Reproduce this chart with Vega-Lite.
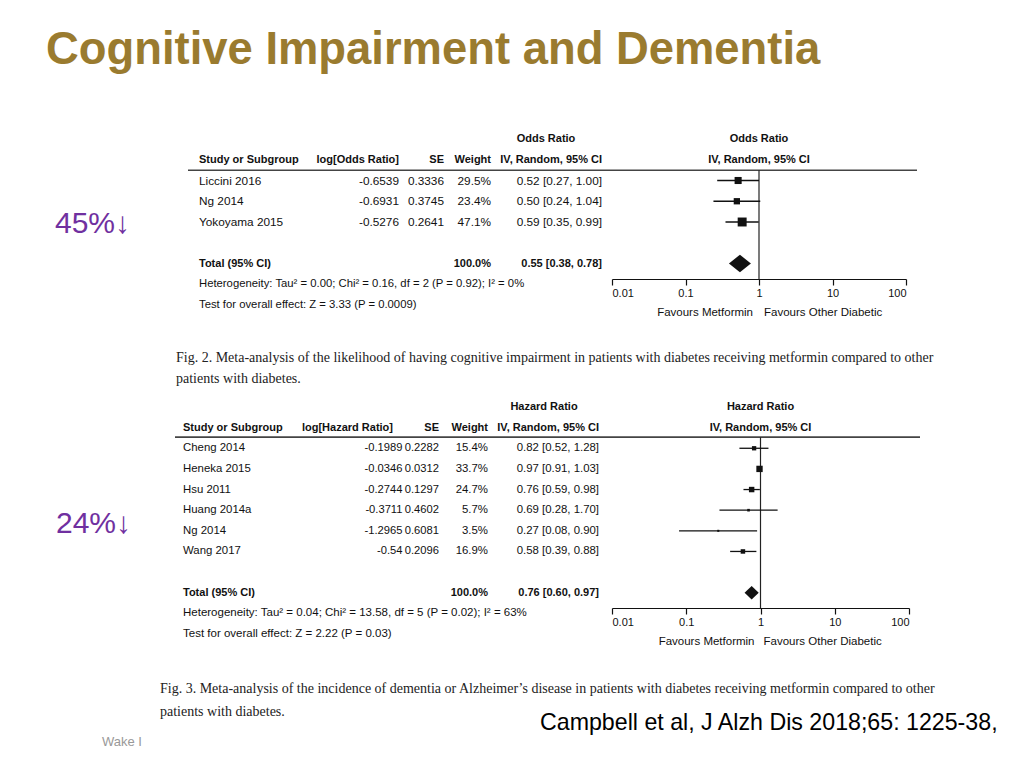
{
  "$schema": "https://vega.github.io/schema/vega-lite/v6.json",
  "width": 1024,
  "height": 768,
  "autosize": "none",
  "padding": 0,
  "background": "white",
  "config": {
    "view": {"stroke": null},
    "axis": {"grid": false, "domainColor": "#111", "tickColor": "#111", "labelColor": "#111", "labelFont": "Liberation Sans", "labelFontSize": 11, "tickSize": 6, "labelPadding": 2, "domainWidth": 1.2, "tickWidth": 1.2}
  },
  "data": {"values": [{}]},
  "resolve": {"scale": {"x": "independent", "y": "independent", "size": "independent"}},
  "layer": [
    {"mark": {"type": "text", "align": "left", "baseline": "alphabetic", "font": "Liberation Sans", "fontSize": 45.4, "fontWeight": "bold", "color": "#9A7B2F"},
     "encoding": {"x": {"datum": 46, "type": "quantitative", "scale": {"domain": [0, 1024], "range": [0, 1024], "nice": false, "zero": false}, "axis": null},
                  "y": {"datum": 64, "type": "quantitative", "scale": {"domain": [0, 768], "range": [0, 768], "nice": false, "zero": false}, "axis": null},
                  "text": {"value": "Cognitive Impairment and Dementia"}}},
    {"mark": {"type": "text", "align": "left", "baseline": "alphabetic", "font": "Liberation Sans", "fontSize": 30, "color": "#7030A0"},
     "encoding": {"x": {"datum": 55, "type": "quantitative", "scale": {"domain": [0, 1024], "range": [0, 1024], "nice": false, "zero": false}, "axis": null},
                  "y": {"datum": 233, "type": "quantitative", "scale": {"domain": [0, 768], "range": [0, 768], "nice": false, "zero": false}, "axis": null},
                  "text": {"value": "45%↓"}}},
    {"mark": {"type": "text", "align": "left", "baseline": "alphabetic", "font": "Liberation Sans", "fontSize": 30, "color": "#7030A0"},
     "encoding": {"x": {"datum": 56, "type": "quantitative", "scale": {"domain": [0, 1024], "range": [0, 1024], "nice": false, "zero": false}, "axis": null},
                  "y": {"datum": 533, "type": "quantitative", "scale": {"domain": [0, 768], "range": [0, 768], "nice": false, "zero": false}, "axis": null},
                  "text": {"value": "24%↓"}}},
    {"mark": {"type": "text", "align": "left", "baseline": "alphabetic", "font": "Liberation Serif", "fontSize": 14, "color": "#222"},
     "encoding": {"x": {"datum": 176, "type": "quantitative", "scale": {"domain": [0, 1024], "range": [0, 1024], "nice": false, "zero": false}, "axis": null},
                  "y": {"datum": 362, "type": "quantitative", "scale": {"domain": [0, 768], "range": [0, 768], "nice": false, "zero": false}, "axis": null},
                  "text": {"value": "Fig. 2. Meta-analysis of the likelihood of having cognitive impairment in patients with diabetes receiving metformin compared to other"}}},
    {"mark": {"type": "text", "align": "left", "baseline": "alphabetic", "font": "Liberation Serif", "fontSize": 14, "color": "#222"},
     "encoding": {"x": {"datum": 176, "type": "quantitative", "scale": {"domain": [0, 1024], "range": [0, 1024], "nice": false, "zero": false}, "axis": null},
                  "y": {"datum": 383, "type": "quantitative", "scale": {"domain": [0, 768], "range": [0, 768], "nice": false, "zero": false}, "axis": null},
                  "text": {"value": "patients with diabetes."}}},
    {"mark": {"type": "text", "align": "left", "baseline": "alphabetic", "font": "Liberation Serif", "fontSize": 14, "color": "#222"},
     "encoding": {"x": {"datum": 160, "type": "quantitative", "scale": {"domain": [0, 1024], "range": [0, 1024], "nice": false, "zero": false}, "axis": null},
                  "y": {"datum": 693, "type": "quantitative", "scale": {"domain": [0, 768], "range": [0, 768], "nice": false, "zero": false}, "axis": null},
                  "text": {"value": "Fig. 3. Meta-analysis of the incidence of dementia or Alzheimer’s disease in patients with diabetes receiving metformin compared to other"}}},
    {"mark": {"type": "text", "align": "left", "baseline": "alphabetic", "font": "Liberation Serif", "fontSize": 14, "color": "#222"},
     "encoding": {"x": {"datum": 160, "type": "quantitative", "scale": {"domain": [0, 1024], "range": [0, 1024], "nice": false, "zero": false}, "axis": null},
                  "y": {"datum": 716, "type": "quantitative", "scale": {"domain": [0, 768], "range": [0, 768], "nice": false, "zero": false}, "axis": null},
                  "text": {"value": "patients with diabetes."}}},
    {"mark": {"type": "text", "align": "left", "baseline": "alphabetic", "font": "Liberation Sans", "fontSize": 23.2, "color": "#000"},
     "encoding": {"x": {"datum": 540, "type": "quantitative", "scale": {"domain": [0, 1024], "range": [0, 1024], "nice": false, "zero": false}, "axis": null},
                  "y": {"datum": 730, "type": "quantitative", "scale": {"domain": [0, 768], "range": [0, 768], "nice": false, "zero": false}, "axis": null},
                  "text": {"value": "Campbell et al, J Alzh Dis 2018;65: 1225-38,"}}},
    {"mark": {"type": "text", "align": "left", "baseline": "alphabetic", "font": "Liberation Sans", "fontSize": 13, "color": "#999"},
     "encoding": {"x": {"datum": 102, "type": "quantitative", "scale": {"domain": [0, 1024], "range": [0, 1024], "nice": false, "zero": false}, "axis": null},
                  "y": {"datum": 746, "type": "quantitative", "scale": {"domain": [0, 768], "range": [0, 768], "nice": false, "zero": false}, "axis": null},
                  "text": {"value": "Wake I"}}},

    {"data": {"values": [
      {"study": "Study or Subgroup", "logr": "log[Odds Ratio]", "se": "SE", "wt": "Weight", "ci": "IV, Random, 95% CI"},
      {"study": "Liccini 2016", "logr": "-0.6539", "se": "0.3336", "wt": "29.5%", "ci": "0.52 [0.27, 1.00]", "weight": 29.5, "or": 0.52, "lo": 0.27, "hi": 1.00},
      {"study": "Ng 2014", "logr": "-0.6931", "se": "0.3745", "wt": "23.4%", "ci": "0.50 [0.24, 1.04]", "weight": 23.4, "or": 0.50, "lo": 0.24, "hi": 1.04},
      {"study": "Yokoyama 2015", "logr": "-0.5276", "se": "0.2641", "wt": "47.1%", "ci": "0.59 [0.35, 0.99]", "weight": 47.1, "or": 0.59, "lo": 0.35, "hi": 0.99},
      {"study": "Total (95% CI)", "wt": "100.0%", "ci": "0.55 [0.38, 0.78]", "weight": 100, "or": 0.55, "lo": 0.38, "hi": 0.78}
     ]},
     "encoding": {"y": {"field": "study", "type": "nominal", "axis": null,
       "scale": {"type": "point", "padding": 0, "domain": ["sup", "Study or Subgroup", "Liccini 2016", "Ng 2014", "Yokoyama 2015", "gap", "Total (95% CI)", "Heterogeneity", "Test"], "range": [139, 305]}}},
     "resolve": {"scale": {"x": "independent"}},
     "layer": [
       {"mark": {"type": "text", "align": "left", "baseline": "middle", "font": "Liberation Sans", "color": "#111",
                 "fontWeight": {"expr": "datum.study === 'Study or Subgroup' || datum.study === 'Total (95% CI)' ? 'bold' : 'normal'"},
                 "fontSize": {"expr": "datum.study === 'Study or Subgroup' || datum.study === 'Total (95% CI)' ? 11 : 11.8"}},
        "encoding": {"x": {"datum": 199, "type": "quantitative", "scale": {"domain": [0, 1024], "range": [0, 1024], "nice": false, "zero": false}, "axis": null},
                     "text": {"field": "study"}}},
       {"transform": [{"filter": "isValid(datum.logr)"}],
        "mark": {"type": "text", "align": "right", "baseline": "middle", "font": "Liberation Sans", "color": "#111",
                 "fontWeight": {"expr": "datum.study === 'Study or Subgroup' || datum.study === 'Total (95% CI)' ? 'bold' : 'normal'"},
                 "fontSize": {"expr": "datum.study === 'Study or Subgroup' || datum.study === 'Total (95% CI)' ? 11 : 11.8"}},
        "encoding": {"x": {"datum": 399, "type": "quantitative", "scale": {"domain": [0, 1024], "range": [0, 1024], "nice": false, "zero": false}, "axis": null},
                     "text": {"field": "logr"}}},
       {"transform": [{"filter": "isValid(datum.se)"}],
        "mark": {"type": "text", "align": "right", "baseline": "middle", "font": "Liberation Sans", "color": "#111",
                 "fontWeight": {"expr": "datum.study === 'Study or Subgroup' || datum.study === 'Total (95% CI)' ? 'bold' : 'normal'"},
                 "fontSize": {"expr": "datum.study === 'Study or Subgroup' || datum.study === 'Total (95% CI)' ? 11 : 11.8"}},
        "encoding": {"x": {"datum": 444, "type": "quantitative", "scale": {"domain": [0, 1024], "range": [0, 1024], "nice": false, "zero": false}, "axis": null},
                     "text": {"field": "se"}}},
       {"mark": {"type": "text", "align": "right", "baseline": "middle", "font": "Liberation Sans", "color": "#111",
                 "fontWeight": {"expr": "datum.study === 'Study or Subgroup' || datum.study === 'Total (95% CI)' ? 'bold' : 'normal'"},
                 "fontSize": {"expr": "datum.study === 'Study or Subgroup' || datum.study === 'Total (95% CI)' ? 11 : 11.8"}},
        "encoding": {"x": {"datum": 491, "type": "quantitative", "scale": {"domain": [0, 1024], "range": [0, 1024], "nice": false, "zero": false}, "axis": null},
                     "text": {"field": "wt"}}},
       {"mark": {"type": "text", "align": "right", "baseline": "middle", "font": "Liberation Sans", "color": "#111",
                 "fontWeight": {"expr": "datum.study === 'Study or Subgroup' || datum.study === 'Total (95% CI)' ? 'bold' : 'normal'"},
                 "fontSize": {"expr": "datum.study === 'Study or Subgroup' || datum.study === 'Total (95% CI)' ? 11 : 11.8"}},
        "encoding": {"x": {"datum": 602, "type": "quantitative", "scale": {"domain": [0, 1024], "range": [0, 1024], "nice": false, "zero": false}, "axis": null},
                     "text": {"field": "ci"}}},
       {"data": {"values": [{}]},
        "mark": {"type": "text", "align": "center", "baseline": "middle", "font": "Liberation Sans", "fontSize": 11, "fontWeight": "bold", "color": "#111"},
        "encoding": {"x": {"datum": 546, "type": "quantitative", "scale": {"domain": [0, 1024], "range": [0, 1024], "nice": false, "zero": false}, "axis": null},
                     "y": {"datum": "sup", "type": "nominal"},
                     "text": {"value": "Odds Ratio"}}},
       {"data": {"values": [{}]},
        "mark": {"type": "rule", "color": "#444", "strokeWidth": 1.6, "yOffset": 10.5},
        "encoding": {"x": {"datum": 188, "type": "quantitative", "scale": {"domain": [0, 1024], "range": [0, 1024], "nice": false, "zero": false}, "axis": null},
                     "x2": {"datum": 917},
                     "y": {"datum": "Study or Subgroup", "type": "nominal"}}},
       {"data": {"values": [
          {"study": "Heterogeneity", "note": "Heterogeneity: Tau² = 0.00; Chi² = 0.16, df = 2 (P = 0.92); I² = 0%"},
          {"study": "Test", "note": "Test for overall effect: Z = 3.33 (P = 0.0009)"}
        ]},
        "mark": {"type": "text", "align": "left", "baseline": "middle", "font": "Liberation Sans", "fontSize": 11.3, "color": "#111"},
        "encoding": {"x": {"datum": 199, "type": "quantitative", "scale": {"domain": [0, 1024], "range": [0, 1024], "nice": false, "zero": false}, "axis": null},
                     "text": {"field": "note"}}},
       {"layer": [
          {"data": {"values": [{}]},
           "mark": {"type": "rule", "color": "#222", "strokeWidth": 1.2, "yOffset": 10.5, "y2Offset": -5},
           "encoding": {"x": {"datum": 1, "type": "quantitative", "scale": {"type": "log", "domain": [0.01, 100], "range": [612, 906]}, "axis": {"orient": "bottom", "offset": -489, "values": [0.01, 0.1, 1, 10, 100], "format": "~g", "title": null, "labelFlush": true, "labelOverlap": false}},
                        "y": {"datum": "Study or Subgroup", "type": "nominal"},
                        "y2": {"datum": "Heterogeneity"}}},
          {"transform": [{"filter": "isValid(datum.lo) && datum.study !== 'Total (95% CI)'"}],
           "mark": {"type": "rule", "color": "#111", "strokeWidth": 1.3},
           "encoding": {"x": {"field": "lo", "type": "quantitative", "scale": {"type": "log", "domain": [0.01, 100], "range": [612, 906]}, "axis": {"orient": "bottom", "offset": -489, "values": [0.01, 0.1, 1, 10, 100], "format": "~g", "title": null, "labelFlush": true, "labelOverlap": false}},
                        "x2": {"field": "hi"}}},
          {"transform": [{"filter": "isValid(datum.or) && datum.study !== 'Total (95% CI)'"}],
           "mark": {"type": "point", "shape": "square", "filled": true, "color": "#111", "opacity": 1},
           "encoding": {"x": {"field": "or", "type": "quantitative", "scale": {"type": "log", "domain": [0.01, 100], "range": [612, 906]}, "axis": {"orient": "bottom", "offset": -489, "values": [0.01, 0.1, 1, 10, 100], "format": "~g", "title": null, "labelFlush": true, "labelOverlap": false}},
                        "size": {"field": "weight", "type": "quantitative", "scale": {"domain": [0, 100], "range": [0, 170]}, "legend": null}}},
          {"transform": [{"filter": "datum.study === 'Total (95% CI)'"}],
           "mark": {"type": "point", "shape": "M -1 0 L 0 -0.8 L 1 0 L 0 0.8 Z", "filled": true, "color": "#111", "opacity": 1, "size": 484},
           "encoding": {"x": {"field": "or", "type": "quantitative", "scale": {"type": "log", "domain": [0.01, 100], "range": [612, 906]}, "axis": {"orient": "bottom", "offset": -489, "values": [0.01, 0.1, 1, 10, 100], "format": "~g", "title": null, "labelFlush": true, "labelOverlap": false}}}},
          {"data": {"values": [{}]},
           "mark": {"type": "text", "align": "center", "baseline": "middle", "font": "Liberation Sans", "fontSize": 11, "fontWeight": "bold", "color": "#111"},
           "encoding": {"x": {"datum": 1, "type": "quantitative", "scale": {"type": "log", "domain": [0.01, 100], "range": [612, 906]}},
                        "y": {"datum": "sup", "type": "nominal"},
                        "text": {"value": "Odds Ratio"}}},
          {"data": {"values": [{}]},
           "mark": {"type": "text", "align": "center", "baseline": "middle", "font": "Liberation Sans", "fontSize": 11, "fontWeight": "bold", "color": "#111"},
           "encoding": {"x": {"datum": 1, "type": "quantitative", "scale": {"type": "log", "domain": [0.01, 100], "range": [612, 906]}},
                        "y": {"datum": "Study or Subgroup", "type": "nominal"},
                        "text": {"value": "IV, Random, 95% CI"}}},
          {"data": {"values": [{}]},
           "mark": {"type": "text", "align": "right", "baseline": "middle", "dx": -6, "dy": 7.5, "font": "Liberation Sans", "fontSize": 11.5, "color": "#111"},
           "encoding": {"x": {"datum": 1, "type": "quantitative", "scale": {"type": "log", "domain": [0.01, 100], "range": [612, 906]}},
                        "y": {"datum": "Test", "type": "nominal"},
                        "text": {"value": "Favours Metformin"}}},
          {"data": {"values": [{}]},
           "mark": {"type": "text", "align": "left", "baseline": "middle", "dx": 5, "dy": 7.5, "font": "Liberation Sans", "fontSize": 11.5, "color": "#111"},
           "encoding": {"x": {"datum": 1, "type": "quantitative", "scale": {"type": "log", "domain": [0.01, 100], "range": [612, 906]}},
                        "y": {"datum": "Test", "type": "nominal"},
                        "text": {"value": "Favours Other Diabetic"}}}
       ]}
     ]},

    {"data": {"values": [
      {"study": "Study or Subgroup", "logr": "log[Hazard Ratio]", "se": "SE", "wt": "Weight", "ci": "IV, Random, 95% CI"},
      {"study": "Cheng 2014", "logr": "-0.1989", "se": "0.2282", "wt": "15.4%", "ci": "0.82 [0.52, 1.28]", "weight": 15.4, "or": 0.82, "lo": 0.52, "hi": 1.28},
      {"study": "Heneka 2015", "logr": "-0.0346", "se": "0.0312", "wt": "33.7%", "ci": "0.97 [0.91, 1.03]", "weight": 33.7, "or": 0.97, "lo": 0.91, "hi": 1.03},
      {"study": "Hsu 2011", "logr": "-0.2744", "se": "0.1297", "wt": "24.7%", "ci": "0.76 [0.59, 0.98]", "weight": 24.7, "or": 0.76, "lo": 0.59, "hi": 0.98},
      {"study": "Huang 2014a", "logr": "-0.3711", "se": "0.4602", "wt": "5.7%", "ci": "0.69 [0.28, 1.70]", "weight": 5.7, "or": 0.69, "lo": 0.28, "hi": 1.70},
      {"study": "Ng 2014", "logr": "-1.2965", "se": "0.6081", "wt": "3.5%", "ci": "0.27 [0.08, 0.90]", "weight": 3.5, "or": 0.27, "lo": 0.08, "hi": 0.90},
      {"study": "Wang 2017", "logr": "-0.54", "se": "0.2096", "wt": "16.9%", "ci": "0.58 [0.39, 0.88]", "weight": 16.9, "or": 0.58, "lo": 0.39, "hi": 0.88},
      {"study": "Total (95% CI)", "wt": "100.0%", "ci": "0.76 [0.60, 0.97]", "weight": 100, "or": 0.76, "lo": 0.60, "hi": 0.97}
     ]},
     "encoding": {"y": {"field": "study", "type": "nominal", "axis": null,
       "scale": {"type": "point", "padding": 0, "domain": ["sup", "Study or Subgroup", "Cheng 2014", "Heneka 2015", "Hsu 2011", "Huang 2014a", "Ng 2014", "Wang 2017", "gap", "Total (95% CI)", "Heterogeneity", "Test"], "range": [407, 634]}}},
     "resolve": {"scale": {"x": "independent"}},
     "layer": [
       {"mark": {"type": "text", "align": "left", "baseline": "middle", "font": "Liberation Sans", "color": "#111",
                 "fontWeight": {"expr": "datum.study === 'Study or Subgroup' || datum.study === 'Total (95% CI)' ? 'bold' : 'normal'"},
                 "fontSize": {"expr": "datum.study === 'Study or Subgroup' || datum.study === 'Total (95% CI)' ? 11 : 11.4"}},
        "encoding": {"x": {"datum": 183, "type": "quantitative", "scale": {"domain": [0, 1024], "range": [0, 1024], "nice": false, "zero": false}, "axis": null},
                     "text": {"field": "study"}}},
       {"transform": [{"filter": "isValid(datum.logr) && datum.study !== 'Study or Subgroup'"}],
        "mark": {"type": "text", "align": "right", "baseline": "middle", "font": "Liberation Sans", "color": "#111", "fontSize": 11.2},
        "encoding": {"x": {"datum": 402.5, "type": "quantitative", "scale": {"domain": [0, 1024], "range": [0, 1024], "nice": false, "zero": false}, "axis": null},
                     "text": {"field": "logr"}}},
       {"transform": [{"filter": "datum.study === 'Study or Subgroup'"}],
        "mark": {"type": "text", "align": "right", "baseline": "middle", "font": "Liberation Sans", "color": "#111", "fontSize": 11, "fontWeight": "bold"},
        "encoding": {"x": {"datum": 393, "type": "quantitative", "scale": {"domain": [0, 1024], "range": [0, 1024], "nice": false, "zero": false}, "axis": null},
                     "text": {"field": "logr"}}},
       {"transform": [{"filter": "isValid(datum.se)"}],
        "mark": {"type": "text", "align": "right", "baseline": "middle", "font": "Liberation Sans", "color": "#111",
                 "fontWeight": {"expr": "datum.study === 'Study or Subgroup' || datum.study === 'Total (95% CI)' ? 'bold' : 'normal'"},
                 "fontSize": {"expr": "datum.study === 'Study or Subgroup' || datum.study === 'Total (95% CI)' ? 11 : 11.2"}},
        "encoding": {"x": {"datum": 439, "type": "quantitative", "scale": {"domain": [0, 1024], "range": [0, 1024], "nice": false, "zero": false}, "axis": null},
                     "text": {"field": "se"}}},
       {"mark": {"type": "text", "align": "right", "baseline": "middle", "font": "Liberation Sans", "color": "#111",
                 "fontWeight": {"expr": "datum.study === 'Study or Subgroup' || datum.study === 'Total (95% CI)' ? 'bold' : 'normal'"},
                 "fontSize": {"expr": "datum.study === 'Study or Subgroup' || datum.study === 'Total (95% CI)' ? 11 : 11.4"}},
        "encoding": {"x": {"datum": 488, "type": "quantitative", "scale": {"domain": [0, 1024], "range": [0, 1024], "nice": false, "zero": false}, "axis": null},
                     "text": {"field": "wt"}}},
       {"mark": {"type": "text", "align": "right", "baseline": "middle", "font": "Liberation Sans", "color": "#111",
                 "fontWeight": {"expr": "datum.study === 'Study or Subgroup' || datum.study === 'Total (95% CI)' ? 'bold' : 'normal'"},
                 "fontSize": {"expr": "datum.study === 'Study or Subgroup' || datum.study === 'Total (95% CI)' ? 11 : 11.4"}},
        "encoding": {"x": {"datum": 599, "type": "quantitative", "scale": {"domain": [0, 1024], "range": [0, 1024], "nice": false, "zero": false}, "axis": null},
                     "text": {"field": "ci"}}},
       {"data": {"values": [{}]},
        "mark": {"type": "text", "align": "center", "baseline": "middle", "font": "Liberation Sans", "fontSize": 11, "fontWeight": "bold", "color": "#111"},
        "encoding": {"x": {"datum": 544, "type": "quantitative", "scale": {"domain": [0, 1024], "range": [0, 1024], "nice": false, "zero": false}, "axis": null},
                     "y": {"datum": "sup", "type": "nominal"},
                     "text": {"value": "Hazard Ratio"}}},
       {"data": {"values": [{}]},
        "mark": {"type": "rule", "color": "#444", "strokeWidth": 1.6, "yOffset": 9.5},
        "encoding": {"x": {"datum": 175, "type": "quantitative", "scale": {"domain": [0, 1024], "range": [0, 1024], "nice": false, "zero": false}, "axis": null},
                     "x2": {"datum": 920},
                     "y": {"datum": "Study or Subgroup", "type": "nominal"}}},
       {"data": {"values": [
          {"study": "Heterogeneity", "note": "Heterogeneity: Tau² = 0.04; Chi² = 13.58, df = 5 (P = 0.02); I² = 63%"},
          {"study": "Test", "note": "Test for overall effect: Z = 2.22 (P = 0.03)"}
        ]},
        "mark": {"type": "text", "align": "left", "baseline": "middle", "font": "Liberation Sans", "fontSize": 11.5, "color": "#111"},
        "encoding": {"x": {"datum": 183, "type": "quantitative", "scale": {"domain": [0, 1024], "range": [0, 1024], "nice": false, "zero": false}, "axis": null},
                     "text": {"field": "note"}}},
       {"layer": [
          {"data": {"values": [{}]},
           "mark": {"type": "rule", "color": "#222", "strokeWidth": 1.2, "yOffset": 9.5, "y2Offset": -5},
           "encoding": {"x": {"datum": 1, "type": "quantitative", "scale": {"type": "log", "domain": [0.01, 100], "range": [612, 909]}, "axis": {"orient": "bottom", "offset": -160, "values": [0.01, 0.1, 1, 10, 100], "format": "~g", "title": null, "labelFlush": true, "labelOverlap": false}},
                        "y": {"datum": "Study or Subgroup", "type": "nominal"},
                        "y2": {"datum": "Heterogeneity"}}},
          {"transform": [{"filter": "isValid(datum.lo) && datum.study !== 'Total (95% CI)'"}],
           "mark": {"type": "rule", "color": "#111", "strokeWidth": 1.3},
           "encoding": {"x": {"field": "lo", "type": "quantitative", "scale": {"type": "log", "domain": [0.01, 100], "range": [612, 909]}, "axis": {"orient": "bottom", "offset": -160, "values": [0.01, 0.1, 1, 10, 100], "format": "~g", "title": null, "labelFlush": true, "labelOverlap": false}},
                        "x2": {"field": "hi"}}},
          {"transform": [{"filter": "isValid(datum.or) && datum.study !== 'Total (95% CI)'"}],
           "mark": {"type": "point", "shape": "square", "filled": true, "color": "#111", "opacity": 1},
           "encoding": {"x": {"field": "or", "type": "quantitative", "scale": {"type": "log", "domain": [0.01, 100], "range": [612, 909]}, "axis": {"orient": "bottom", "offset": -160, "values": [0.01, 0.1, 1, 10, 100], "format": "~g", "title": null, "labelFlush": true, "labelOverlap": false}},
                        "size": {"field": "weight", "type": "quantitative", "scale": {"domain": [0, 100], "range": [0, 120]}, "legend": null}}},
          {"transform": [{"filter": "datum.study === 'Total (95% CI)'"}],
           "mark": {"type": "point", "shape": "M -1 0 L 0 -0.95 L 1 0 L 0 0.95 Z", "filled": true, "color": "#111", "opacity": 1, "size": 200},
           "encoding": {"x": {"field": "or", "type": "quantitative", "scale": {"type": "log", "domain": [0.01, 100], "range": [612, 909]}, "axis": {"orient": "bottom", "offset": -160, "values": [0.01, 0.1, 1, 10, 100], "format": "~g", "title": null, "labelFlush": true, "labelOverlap": false}}}},
          {"data": {"values": [{}]},
           "mark": {"type": "text", "align": "center", "baseline": "middle", "font": "Liberation Sans", "fontSize": 11, "fontWeight": "bold", "color": "#111"},
           "encoding": {"x": {"datum": 1, "type": "quantitative", "scale": {"type": "log", "domain": [0.01, 100], "range": [612, 909]}},
                        "y": {"datum": "sup", "type": "nominal"},
                        "text": {"value": "Hazard Ratio"}}},
          {"data": {"values": [{}]},
           "mark": {"type": "text", "align": "center", "baseline": "middle", "font": "Liberation Sans", "fontSize": 11, "fontWeight": "bold", "color": "#111"},
           "encoding": {"x": {"datum": 1, "type": "quantitative", "scale": {"type": "log", "domain": [0.01, 100], "range": [612, 909]}},
                        "y": {"datum": "Study or Subgroup", "type": "nominal"},
                        "text": {"value": "IV, Random, 95% CI"}}},
          {"data": {"values": [{}]},
           "mark": {"type": "text", "align": "right", "baseline": "middle", "dx": -6, "dy": 8, "font": "Liberation Sans", "fontSize": 11.5, "color": "#111"},
           "encoding": {"x": {"datum": 1, "type": "quantitative", "scale": {"type": "log", "domain": [0.01, 100], "range": [612, 909]}},
                        "y": {"datum": "Test", "type": "nominal"},
                        "text": {"value": "Favours Metformin"}}},
          {"data": {"values": [{}]},
           "mark": {"type": "text", "align": "left", "baseline": "middle", "dx": 3, "dy": 8, "font": "Liberation Sans", "fontSize": 11.5, "color": "#111"},
           "encoding": {"x": {"datum": 1, "type": "quantitative", "scale": {"type": "log", "domain": [0.01, 100], "range": [612, 909]}},
                        "y": {"datum": "Test", "type": "nominal"},
                        "text": {"value": "Favours Other Diabetic"}}}
       ]}
     ]}
  ]
}
